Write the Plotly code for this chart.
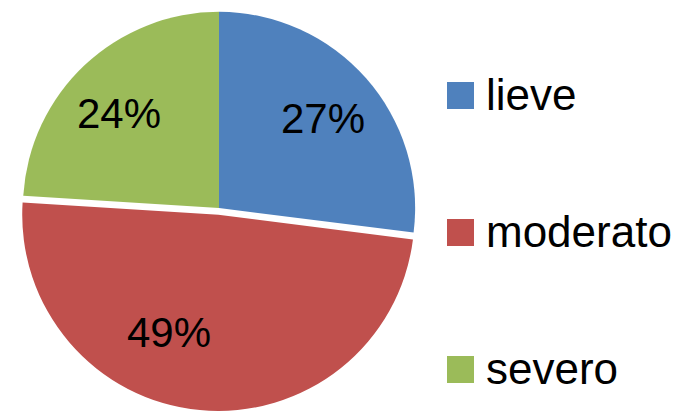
import math
import plotly.graph_objects as go

labels = ["lieve", "moderato", "severo"]
values = [27, 49, 24]
colors = ["#4F81BD", "#C0504D", "#9BBB59"]
pulls = [0, 0.035, 0]

# label placement styling (fraction of radius, angular nudge in degrees)
label_radius = [0.70, 0.65, 0.70]
label_shift = [0.7, 17.5, -3.4]

W, H = 682, 411
FONT = "Liberation Sans, Arial, sans-serif"

# pie geometry in page pixels
CX, TOP = 219, 5
avail_h = H - TOP
R = avail_h / 2 / (1 + max(pulls))
CY = TOP + avail_h / 2

fig = go.Figure(go.Pie(
    labels=labels,
    values=values,
    marker=dict(colors=colors, line=dict(width=0)),
    pull=pulls,
    sort=False,
    direction="clockwise",
    rotation=0,
    textinfo="none",
    domain=dict(x=[(CX - avail_h / 2) / W, (CX + avail_h / 2) / W], y=[0, 1 - TOP / H]),
    showlegend=False,
    hoverinfo="label+percent",
))

annotations = []
total = sum(values)
cum = 0
for v, p, rf, sh in zip(values, pulls, label_radius, label_shift):
    mid = math.radians(360 * (cum + v / 2) / total)
    cum += v
    ox = CX + p * R * math.sin(mid)
    oy = CY - p * R * math.cos(mid)
    a = mid + math.radians(sh)
    x = ox + rf * R * math.sin(a)
    y = oy - rf * R * math.cos(a)
    annotations.append(dict(xref="paper", yref="paper", x=x / W, y=1 - y / H,
                            text=f"{round(100 * v / total)}%", showarrow=False,
                            xanchor="center", yanchor="middle",
                            font=dict(family=FONT, size=42, color="black")))

shapes = []
for i, (lab, col) in enumerate(zip(labels, colors)):
    yc = 95.5 + i * 137
    shapes.append(dict(type="rect", xref="paper", yref="paper",
                       x0=447 / W, x1=474 / W,
                       y0=1 - (yc + 13.5) / H, y1=1 - (yc - 13.5) / H,
                       fillcolor=col, line=dict(width=0)))
    annotations.append(dict(xref="paper", yref="paper", x=484 / W, y=1 - (yc - 1) / H,
                            text=lab, showarrow=False, xanchor="left", yanchor="middle",
                            font=dict(family=FONT, size=44, color="black")))

fig.update_layout(
    width=W, height=H,
    margin=dict(l=0, r=0, t=0, b=0),
    paper_bgcolor="white",
    plot_bgcolor="white",
    shapes=shapes,
    annotations=annotations,
)

fig.write_html("out.html", config={"displayModeBar": False},
               post_script="document.body.style.margin='0';")
